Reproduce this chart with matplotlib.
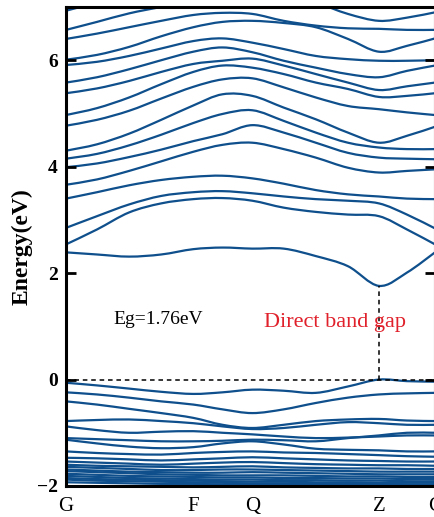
import numpy as np
import matplotlib
matplotlib.use("Agg")
import matplotlib.pyplot as plt
from matplotlib.path import Path
from matplotlib.patches import PathPatch

# high symmetry points along the k-path
sym_labels = ["G", "F", "Q", "Z", "C"]
sym_k = [0.0, 0.345, 0.505, 0.848, 1.0]

# k-points where the band energies were read
k = [0.0, 0.084, 0.171, 0.258, 0.345, 0.424, 0.505, 0.590, 0.677, 0.764, 0.848, 0.924, 1.0]

# conduction bands (eV)
cond = [
    [6.93, 7.08, 7.22, 7.32, 7.40, 7.45, 7.45, 7.40, 7.35, 7.30, 7.25, 7.20, 7.20],
    [6.57, 6.72, 6.88, 7.00, 7.10, 7.18, 7.22, 7.20, 7.08, 6.87, 6.74, 6.80, 6.90],
    [6.40, 6.50, 6.62, 6.74, 6.85, 6.89, 6.87, 6.74, 6.65, 6.60, 6.59, 6.57, 6.57],
    [6.01, 6.10, 6.25, 6.45, 6.62, 6.72, 6.74, 6.70, 6.62, 6.40, 6.16, 6.27, 6.41],
    [5.91, 5.97, 6.08, 6.22, 6.36, 6.41, 6.33, 6.21, 6.08, 6.02, 5.99, 5.99, 6.00],
    [5.58, 5.68, 5.83, 6.00, 6.16, 6.24, 6.15, 5.99, 5.86, 5.74, 5.68, 5.80, 5.90],
    [5.38, 5.47, 5.61, 5.78, 5.93, 5.99, 6.03, 5.90, 5.74, 5.58, 5.44, 5.51, 5.58],
    [4.97, 5.10, 5.30, 5.55, 5.78, 5.90, 5.86, 5.74, 5.58, 5.46, 5.31, 5.33, 5.38],
    [4.77, 4.88, 5.05, 5.28, 5.50, 5.64, 5.66, 5.49, 5.30, 5.14, 5.08, 5.02, 4.97],
    [4.30, 4.42, 4.62, 4.88, 5.15, 5.36, 5.33, 5.11, 4.89, 4.64, 4.45, 4.58, 4.75],
    [4.15, 4.24, 4.40, 4.60, 4.82, 4.99, 5.06, 4.86, 4.64, 4.45, 4.36, 4.33, 4.33],
    [3.99, 4.06, 4.18, 4.32, 4.48, 4.61, 4.78, 4.64, 4.45, 4.26, 4.17, 4.15, 4.14],
    [3.66, 3.76, 3.92, 4.10, 4.28, 4.41, 4.45, 4.33, 4.17, 3.98, 3.89, 3.92, 3.95],
    [3.40, 3.52, 3.65, 3.75, 3.81, 3.83, 3.78, 3.68, 3.56, 3.48, 3.44, 3.40, 3.39],
    [2.85, 3.07, 3.29, 3.45, 3.52, 3.54, 3.50, 3.44, 3.39, 3.36, 3.31, 3.10, 2.84],
    [2.54, 2.82, 3.14, 3.31, 3.39, 3.41, 3.36, 3.23, 3.15, 3.10, 3.07, 2.82, 2.54],
    [2.39, 2.35, 2.31, 2.35, 2.45, 2.48, 2.46, 2.46, 2.32, 2.13, 1.76, 2.01, 2.39],
]

# valence bands (eV)
val = [
    [-0.06, -0.11, -0.17, -0.23, -0.27, -0.24, -0.19, -0.21, -0.25, -0.13, 0.00, -0.03, -0.04],
    [-0.24, -0.28, -0.34, -0.41, -0.47, -0.56, -0.63, -0.56, -0.44, -0.34, -0.28, -0.26, -0.25],
    [-0.41, -0.47, -0.55, -0.63, -0.72, -0.85, -0.91, -0.85, -0.78, -0.75, -0.74, -0.77, -0.78],
    [-0.78, -0.76, -0.75, -0.78, -0.82, -0.88, -0.93, -0.91, -0.85, -0.80, -0.82, -0.85, -0.85],
    [-0.88, -0.95, -1.00, -0.98, -0.97, -1.00, -1.03, -1.07, -1.10, -1.09, -1.07, -1.05, -1.05],
    [-1.10, -1.12, -1.14, -1.16, -1.16, -1.15, -1.13, -1.14, -1.16, -1.10, -1.05, -1.00, -1.00],
    [-1.13, -1.20, -1.26, -1.29, -1.27, -1.20, -1.16, -1.22, -1.30, -1.32, -1.33, -1.35, -1.35],
    [-1.35, -1.38, -1.40, -1.41, -1.38, -1.36, -1.35, -1.37, -1.38, -1.40, -1.42, -1.44, -1.45],
    [-1.47, -1.48, -1.50, -1.52, -1.50, -1.48, -1.46, -1.48, -1.50, -1.52, -1.53, -1.54, -1.54],
    [-1.54, -1.56, -1.58, -1.60, -1.58, -1.56, -1.55, -1.57, -1.59, -1.60, -1.61, -1.61, -1.62],
    [-1.60, -1.62, -1.63, -1.64, -1.65, -1.64, -1.63, -1.65, -1.66, -1.67, -1.67, -1.68, -1.68],
    [-1.64, -1.66, -1.68, -1.70, -1.70, -1.69, -1.69, -1.70, -1.71, -1.72, -1.73, -1.73, -1.73],
    [-1.69, -1.71, -1.73, -1.74, -1.75, -1.75, -1.74, -1.75, -1.76, -1.77, -1.78, -1.78, -1.78],
    [-1.72, -1.74, -1.76, -1.78, -1.79, -1.80, -1.80, -1.80, -1.81, -1.82, -1.82, -1.83, -1.83],
    [-1.77, -1.79, -1.81, -1.82, -1.83, -1.84, -1.84, -1.85, -1.85, -1.86, -1.86, -1.87, -1.87],
    [-1.81, -1.83, -1.85, -1.86, -1.87, -1.88, -1.88, -1.89, -1.89, -1.90, -1.90, -1.91, -1.91],
    [-1.85, -1.87, -1.88, -1.89, -1.90, -1.91, -1.92, -1.92, -1.93, -1.93, -1.94, -1.94, -1.94],
    [-1.88, -1.90, -1.91, -1.92, -1.93, -1.94, -1.95, -1.95, -1.96, -1.96, -1.96, -1.97, -1.97],
    [-1.93, -1.94, -1.95, -1.96, -1.96, -1.97, -1.97, -1.98, -1.98, -1.98, -1.99, -1.99, -1.99],
]

gap = 1.76
band_color = "#0e4f8c"


def smooth_band(ax, xs, ys, **kw):
    # draw a curve through the read points as a cubic bezier path
    pts = np.column_stack([xs, ys])
    n = len(pts)
    verts = [pts[0]]
    codes = [Path.MOVETO]
    for i in range(n - 1):
        p0 = pts[max(i - 1, 0)]
        p1 = pts[i]
        p2 = pts[i + 1]
        p3 = pts[min(i + 2, n - 1)]
        verts += [p1 + (p2 - p0) / 6, p2 - (p3 - p1) / 6, p2]
        codes += [Path.CURVE4] * 3
    ax.add_patch(PathPatch(Path(verts, codes), fill=False, **kw))


plt.rcParams["font.family"] = ["Liberation Serif", "DejaVu Serif"]

fig = plt.figure(figsize=(4.34, 5.17), dpi=100)
ax = fig.add_axes([66 / 434, 31 / 517, 369 / 434, 479 / 517])

for b in cond + val:
    smooth_band(ax, k, b, edgecolor=band_color, lw=1.6)

# Fermi level and gap marker
ax.axhline(0, color="black", lw=1.1, ls=(0, (3, 2.5)))
ax.plot([sym_k[3], sym_k[3]], [0, gap], color="black", lw=1.1, ls=(0, (3, 2.5)))

ax.text(0.128, 1.13, "Eg=1.76eV", fontsize=14, va="center", ha="left")
ax.text(0.728, 1.07, "Direct band gap", fontsize=16, color="#e0202a",
        va="center", ha="center")

ax.set_xlim(0, 1)
ax.set_ylim(-2, 7)
ax.set_xticks(sym_k)
ax.set_xticklabels(sym_labels, fontsize=15)
ax.set_yticks([-2, 0, 2, 4, 6])
ax.set_yticklabels(["\u22122", "0", "2", "4", "6"], fontsize=14, fontweight="bold")
ax.tick_params(axis="y", direction="in", length=7, width=2, right=True, pad=6)
ax.tick_params(axis="x", length=0, pad=8)
ax.set_ylabel("Energy(eV)", fontsize=17, fontweight="bold", labelpad=3)

for s in ax.spines.values():
    s.set_linewidth(2.2)

fig.savefig("out.png", dpi=100)
